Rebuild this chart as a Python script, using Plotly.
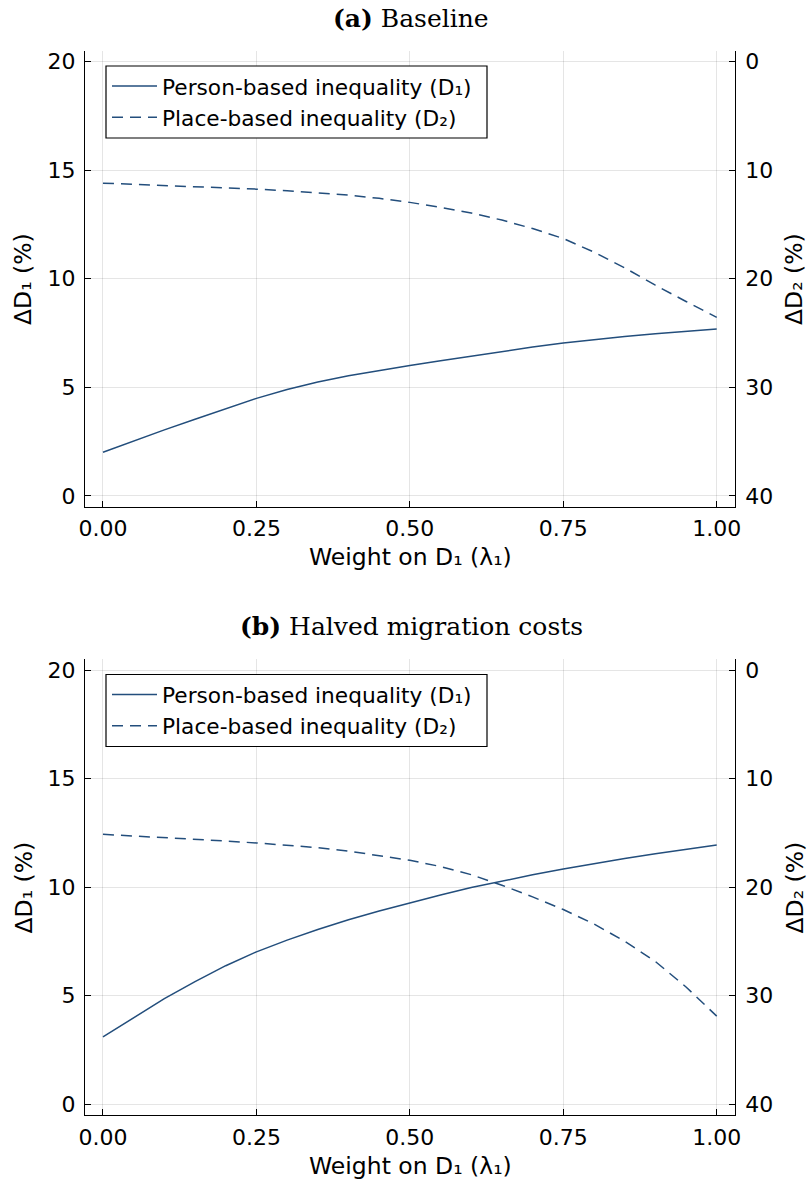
import plotly.graph_objects as go

W, H = 807, 1181

# ---------------- data ----------------
lam = [0.00, 0.05, 0.10, 0.15, 0.20, 0.25, 0.30, 0.35, 0.40, 0.45, 0.50,
       0.55, 0.60, 0.65, 0.70, 0.75, 0.80, 0.85, 0.90, 0.95, 1.00]

# (a) Baseline
a_d1 = [2.01, 2.53, 3.04, 3.53, 4.02, 4.49, 4.90, 5.24, 5.53, 5.78, 6.00,
        6.22, 6.44, 6.65, 6.85, 7.04, 7.20, 7.34, 7.46, 7.57, 7.68]
a_d2 = [11.20, 11.30, 11.40, 11.50, 11.62, 11.75, 11.90, 12.07, 12.30, 12.60, 12.97,
        13.43, 13.95, 14.60, 15.38, 16.30, 17.55, 19.00, 20.60, 22.10, 23.56]

# (b) Halved migration costs
b_d1 = [3.10, 4.00, 4.86, 5.65, 6.38, 7.02, 7.56, 8.05, 8.50, 8.90, 9.28,
        9.64, 9.98, 10.28, 10.57, 10.84, 11.09, 11.32, 11.54, 11.75, 11.94]
b_d2 = [15.13, 15.27, 15.42, 15.58, 15.75, 15.93, 16.13, 16.36, 16.68, 17.07, 17.52,
        18.10, 18.85, 19.82, 20.90, 22.06, 23.40, 24.98, 26.85, 29.20, 31.89]

panel_titles = ["<b>(a)</b> Baseline", "<b>(b)</b> Halved migration costs"]
series_names = ["Person-based inequality (D₁)", "Place-based inequality (D₂)"]
x_title = "Weight on D₁ (λ₁)"
left_title = "ΔD₁ (%)"
right_title = "ΔD₂ (%)"
x_ticks = [0.0, 0.25, 0.5, 0.75, 1.0]
x_tick_labels = ["0.00", "0.25", "0.50", "0.75", "1.00"]
left_ticks = [0, 5, 10, 15, 20]
right_ticks = [0, 10, 20, 30, 40]

# ---------------- style / geometry ----------------
LINE = "#234e7c"
SANS = "DejaVu Sans"
SERIF = "DejaVu Serif"
TICK_SIZE = 22
LEG_SIZE = 21.7
GUIDE_SIZE = 23.5

def xp(px):
    return px / W

def yp(py):
    return 1 - py / H

X_LEFT, X_RIGHT = 85.0, 734.7
panels = [dict(top=50.7, bottom=506.7), dict(top=659.3, bottom=1115.0)]
OFF = [0, 608.5]

fig = go.Figure()

data = [(a_d1, a_d2), (b_d1, b_d2)]
axis_ids = [("x", "y", "y2", "legend"), ("x2", "y3", "y4", "legend2")]
for (d1, d2), (xa, ya, yb, lg) in zip(data, axis_ids):
    fig.add_trace(go.Scatter(x=lam, y=d1, mode="lines", name=series_names[0],
                             line=dict(color=LINE, width=1.5),
                             xaxis=xa, yaxis=ya, legend=lg))
    fig.add_trace(go.Scatter(x=lam, y=d2, mode="lines", name=series_names[1],
                             line=dict(color=LINE, width=1.5, dash="11px,7px"),
                             xaxis=xa, yaxis=yb, legend=lg))

common_axis = dict(
    showline=True, linecolor="black", linewidth=1.3,
    ticks="inside", ticklen=6, tickwidth=1.2, tickcolor="black",
    tickfont=dict(family=SANS, size=TICK_SIZE, color="black"),
    zeroline=False, automargin=False, mirror=False,
)
grid = dict(showgrid=True, gridcolor="rgba(0,0,0,0.10)", gridwidth=1)

layout = dict(
    width=W, height=H,
    margin=dict(l=0, r=0, t=0, b=0),
    paper_bgcolor="white", plot_bgcolor="white",
    showlegend=True,
)

for i, p in enumerate(panels):
    xa = "xaxis" if i == 0 else "xaxis2"
    ya = "yaxis" if i == 0 else "yaxis3"
    yb = "yaxis2" if i == 0 else "yaxis4"
    yref = "y" if i == 0 else "y3"
    xref = "x" if i == 0 else "x2"
    dom_y = [yp(p["bottom"]), yp(p["top"])]
    layout[xa] = dict(domain=[xp(X_LEFT), xp(X_RIGHT)], range=[-0.0293, 1.0293],
                      anchor=yref, tickmode="array", tickvals=x_ticks, ticktext=x_tick_labels,
                      ticklabelstandoff=2, **grid, **common_axis)
    layout[ya] = dict(domain=dom_y, range=[-0.5, 20.5], anchor=xref,
                      tickmode="array", tickvals=left_ticks,
                      ticklabelstandoff=4, **grid, **common_axis)
    layout[yb] = dict(range=[41, -1], overlaying=yref, side="right", anchor=xref,
                      tickmode="array", tickvals=right_ticks, showgrid=False,
                      ticklabelstandoff=5, **common_axis)

fig.update_layout(**layout)

# legends (one per panel)
for i, lg in enumerate(["legend", "legend2"]):
    fig.update_layout(**{lg: dict(
        x=xp(107), y=yp(102 + OFF[i]), xanchor="left", yanchor="middle",
        bgcolor="rgba(0,0,0,0)", borderwidth=0,
        font=dict(family=SANS, size=LEG_SIZE, color="black"),
        itemwidth=45, tracegroupgap=0,
    )})
    fig.add_shape(type="rect", xref="paper", yref="paper",
                  x0=xp(106), x1=xp(487), y0=yp(138 + OFF[i]), y1=yp(66 + OFF[i]),
                  line=dict(color="black", width=1.2), fillcolor="white", layer="above")

annotations = []
for i, p in enumerate(panels):
    annotations.append(dict(text=panel_titles[i], x=xp(411), y=yp(18 + OFF[i]),
                            xref="paper", yref="paper", showarrow=False,
                            xanchor="center", yanchor="middle",
                            font=dict(family=SERIF, size=25, color="black")))
    annotations.append(dict(text=x_title, x=xp(410), y=yp(557 + OFF[i]),
                            xref="paper", yref="paper", showarrow=False,
                            xanchor="center", yanchor="middle",
                            font=dict(family=SANS, size=GUIDE_SIZE, color="black")))
    annotations.append(dict(text=left_title, x=xp(23), y=yp(279 + OFF[i]),
                            xref="paper", yref="paper", showarrow=False, textangle=-90,
                            xanchor="center", yanchor="middle",
                            font=dict(family=SANS, size=GUIDE_SIZE, color="black")))
    annotations.append(dict(text=right_title, x=xp(794), y=yp(279 + OFF[i]),
                            xref="paper", yref="paper", showarrow=False, textangle=-90,
                            xanchor="center", yanchor="middle",
                            font=dict(family=SANS, size=GUIDE_SIZE, color="black")))
fig.update_layout(annotations=annotations)

fig.write_html("out.html",
               config={"displayModeBar": False},
               post_script="document.body.style.margin='0px';"
                           "document.body.style.overflow='hidden';")
